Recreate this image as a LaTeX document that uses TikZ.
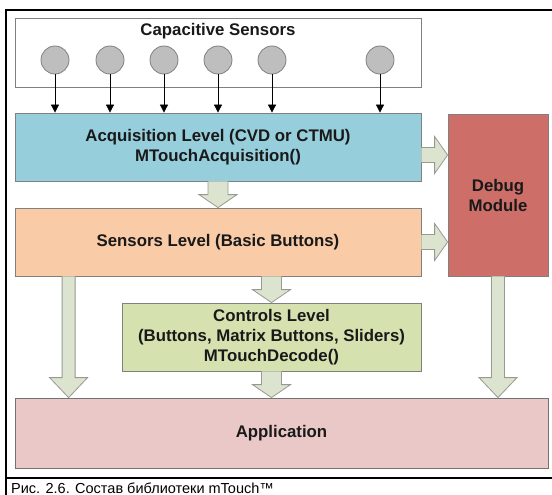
\documentclass[tikz,border=0pt]{standalone}
\usepackage{fontspec}
\setmainfont{Liberation Sans}
\usetikzlibrary{arrows.meta,calc}
\definecolor{acqc}{RGB}{150,206,220}
\definecolor{sensc}{RGB}{249,203,167}
\definecolor{dbgc}{RGB}{205,110,104}
\definecolor{ctrlc}{RGB}{213,226,175}
\definecolor{appc}{RGB}{234,200,200}
\definecolor{blkc}{RGB}{220,227,206}
\definecolor{blkd}{RGB}{150,155,145}
\definecolor{circc}{RGB}{190,190,190}
\newcommand{\BlkV}[5]{%
  \draw[blk] let \p1=(#1), \p2=(#2) in
    (\x1-#3,\y1) -- (\x1-#3,\y2+#5) -- (\x1-#4,\y2+#5) -- (\x1,\y2)
    -- (\x1+#4,\y2+#5) -- (\x1+#3,\y2+#5) -- (\x1+#3,\y1);}
\newcommand{\BlkH}[5]{%
  \draw[blk] let \p1=(#1), \p2=(#2) in
    (\x1,\y1+#3) -- (\x2-#5,\y1+#3) -- (\x2-#5,\y1+#4) -- (\x2,\y1)
    -- (\x2-#5,\y1-#4) -- (\x2-#5,\y1-#3) -- (\x1,\y1-#3);}
\begin{document}
\begin{tikzpicture}[x=1pt,y=-1pt,
  box/.style={draw=black!50, line width=0.8pt, text=black!90,
    font=\fontsize{16.8}{20}\selectfont\bfseries, align=center, inner sep=0pt},
  sensor/.style={circle, draw=black!50, fill=circc, line width=0.8pt,
    minimum size=28pt, inner sep=0pt},
  sig/.style={-{Triangle[length=8pt,width=8pt]}, line width=0.8pt},
  blk/.style={draw=blkd, fill=blkc, line width=0.8pt, line join=miter}]
\useasboundingbox (0,0) rectangle (552,495);
% frame
\draw[line width=2pt] (6,495) -- (6,10) -- (552,10);
\draw[line width=2pt] (5,478) -- (552,478);
\node[anchor=base west, inner sep=0pt, font=\fontsize{14.5}{17}\selectfont] (cap) at (11,493)
  {Рис. 2.6. Состав библиотеки mTouch™};
% sensors area
\node[box, minimum width=406pt, minimum height=69pt] (capbox) at (218,52.5) {};
\node[box, draw=none] (captitle) at (218,31) {Capacitive Sensors};
\foreach \i/\xx in {1/55,2/110,3/164,4/218,5/272,6/380}
  \node[sensor] (s\i) at (\xx,60) {};
% levels
\node[box, fill=acqc, minimum width=406pt, minimum height=68pt] (acq) at (218,147)
  {Acquisition Level (CVD or CTMU)\\MTouchAcquisition()};
\node[box, fill=sensc, minimum width=406pt, minimum height=68pt] (sens) at (218,242)
  {Sensors Level (Basic Buttons)};
\node[box, fill=dbgc, minimum width=100pt, minimum height=162pt] (dbg) at (498,195)
  {Debug\\Module};
\node[box, fill=ctrlc, minimum width=299pt, minimum height=68pt] (ctrl) at (271.5,337)
  {Controls Level\\(Buttons, Matrix Buttons, Sliders)\\MTouchDecode()};
\node[box, fill=appc, draw=black!55, minimum width=533pt, minimum height=70pt] (app) at (281.5,433)
  {Application};
% sensor signals
\foreach \i in {1,...,6}
  \draw[sig] (s\i) -- (s\i |- acq.north);
% block arrows
\coordinate (a1) at ($(acq.east)+(0,8)$);
\coordinate (a2) at (sens.east);
\BlkH{a1}{a1 -| dbg.west}{7.5pt}{18.5pt}{13pt}
\BlkH{a2}{a2 -| dbg.west}{7.5pt}{18.5pt}{13pt}
\BlkV{acq.south}{sens.north}{10pt}{19pt}{13pt}
\BlkV{sens.south -| ctrl.north}{ctrl.north}{10pt}{19pt}{13pt}
\BlkV{ctrl.south}{app.north}{10pt}{19pt}{13pt}
\coordinate (la) at ($(sens.south west)+(54,0)$);
\BlkV{la}{la |- app.north}{6.5pt}{19pt}{20pt}
\BlkV{dbg.south}{app.north}{6.5pt}{19pt}{20pt}
\end{tikzpicture}
\end{document}
